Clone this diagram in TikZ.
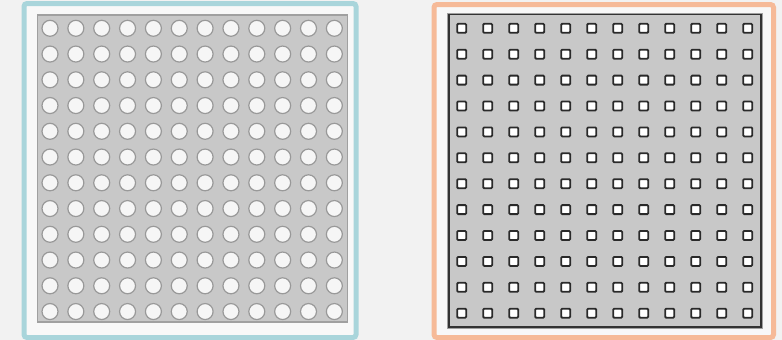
\documentclass[tikz,border=0pt]{standalone}
\begin{document}
\begin{tikzpicture}[x=1pt,y=-1pt,
  panelA/.style={draw=tealB,line width=5pt,fill=panelbg,rounded corners=3pt},
  panelB/.style={draw=orangeB,line width=5pt,fill=panelbg,rounded corners=3pt},
  gridA/.style={draw=grayA,line width=1.6pt,fill=grayfill},
  gridB/.style={draw=darkB,line width=1.4pt,fill=grayfill},
  dot/.style={draw=circleedge,line width=1.2pt,fill=dotfill},
  sq/.style={draw=sqedge,line width=1.8pt,fill=white,rounded corners=1pt}]
\definecolor{bg}{HTML}{F2F2F2}
\definecolor{panelbg}{HTML}{F8F8F8}
\definecolor{tealB}{HTML}{A9D5DB}
\definecolor{orangeB}{HTML}{F6BA98}
\definecolor{grayA}{HTML}{A0A0A0}
\definecolor{grayfill}{HTML}{C8C8C8}
\definecolor{darkB}{HTML}{333333}
\definecolor{circleedge}{HTML}{999999}
\definecolor{dotfill}{HTML}{F6F6F6}
\definecolor{sqedge}{HTML}{2A2A2A}
\fill[bg] (0,0) rectangle (782,340);
\useasboundingbox (0,0) rectangle (782,340);
% left panel
\draw[panelA] (24,3.5) rectangle (356,337.5);
\draw[gridA] (37.5,15) rectangle (347.5,322);
\foreach \i in {0,...,11}{
  \foreach \j in {0,...,11}{
    \draw[dot] ({50+25.85*\i},{28.3+25.75*\j}) circle (8);
  }
}
% right panel
\draw[panelB] (434,4.5) rectangle (773.5,337.5);
\draw[draw=grayA,line width=1pt] (447.5,13.5) rectangle (762,328);
\draw[gridB] (449,14.5) rectangle (761,327);
\foreach \i in {0,...,11}{
  \foreach \j in {0,...,11}{
    \draw[sq] ({461.7+26*\i-4.5},{28.3+25.9*\j-4.5}) rectangle ++(9,9);
  }
}
\end{tikzpicture}
\end{document}
